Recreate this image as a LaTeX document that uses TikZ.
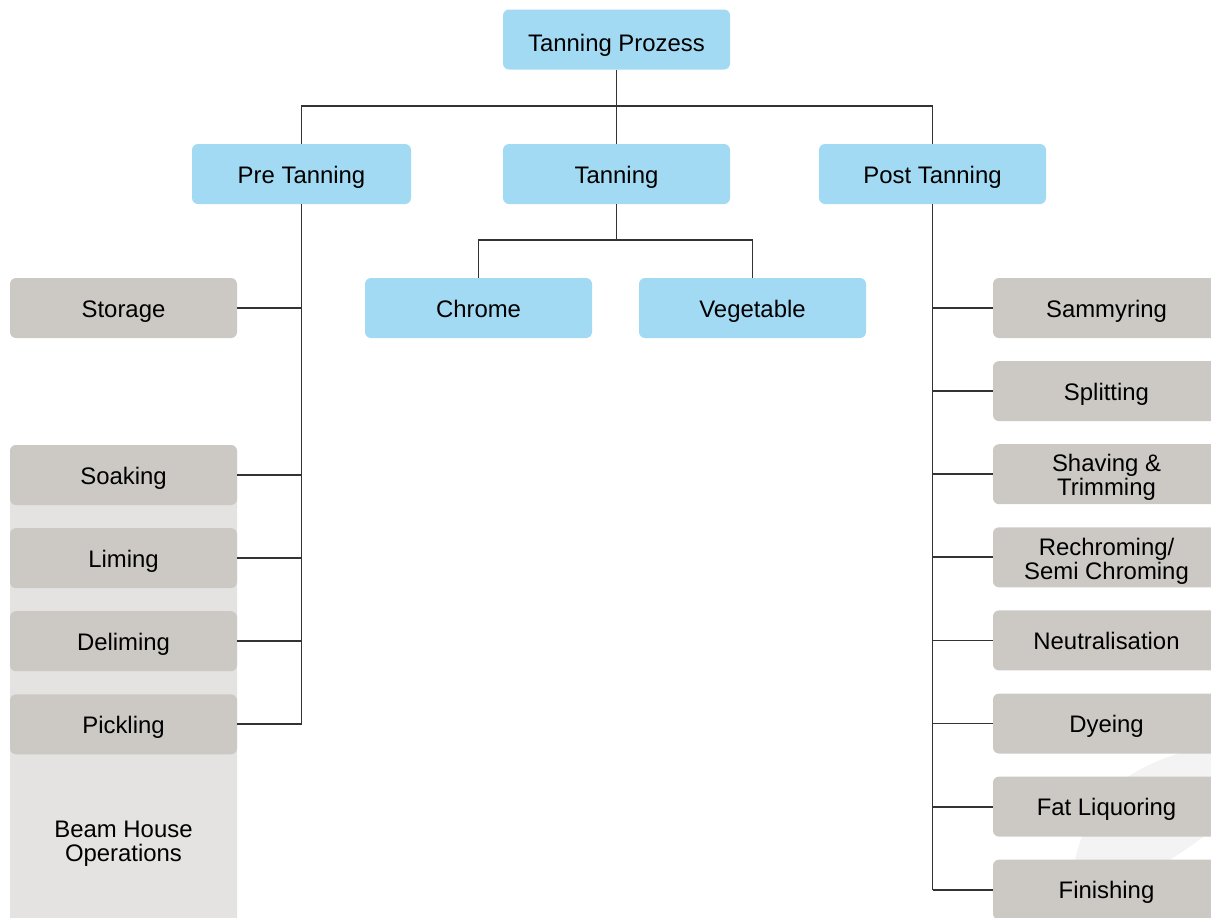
\documentclass[tikz,border=0pt]{standalone}
\usepackage{fontspec}
\setmainfont{Liberation Sans}
\usetikzlibrary{positioning}
\definecolor{boxblue}{HTML}{A3DAF3}
\definecolor{boxgrey}{HTML}{CCC9C5}
\definecolor{panelgrey}{HTML}{E4E3E2}
\definecolor{linegrey}{HTML}{333333}
\definecolor{swoosh}{HTML}{F3F3F3}

\begin{document}
\begin{tikzpicture}[x=0.5pt,y=-0.5pt,node distance=11.15pt,align=center,
	font=\fontsize{11.95pt}{12pt}\selectfont,
	phase/.style={rectangle,rounded corners=3pt,fill=boxblue,minimum width=113.5pt,minimum height=30pt,inner sep=2pt,text height=9pt,text depth=0pt},
	work/.style={rectangle,rounded corners=3pt,fill=boxgrey,minimum width=113.5pt,minimum height=30pt,inner sep=2pt,text height=9pt,text depth=0pt},
	twoline/.style={text height=21.7pt,text depth=0pt},
	link/.style={draw=linegrey,line width=0.9pt}]
		\useasboundingbox (0,0) rectangle (1211,917);
		\clip (0,0) rectangle (1211,917);
		\fill[swoosh] (1072,875) .. controls (1085,800) and (1120,765) .. (1211,745) -- (1211,830) .. controls (1190,850) and (1150,870) .. (1110,900) -- cycle;
		\fill[panelgrey,rounded corners=3pt] (10,445) rectangle (237,940);
		\node[phase,text height=11.5pt] (top) at (616.5,39.5) {Tanning Prozess};
		\node[phase,minimum width=109.5pt] (pre) at (301.5,174) {Pre Tanning};
		\node[phase] (tan) at (616.5,174) {Tanning};
		\node[phase] (post) at (932.5,174) {Post Tanning};
		\node[phase] (chrome) at (478.5,308) {Chrome};
		\node[phase] (veg) at (752.5,308) {Vegetable};
		\node[work] (storage) at (123.5,308) {Storage};
		\node[work] (soak) at (123.5,475) {Soaking};
		\node[work] [below=of soak] (lime) {Liming};
		\node[work] [below=of lime] (delime) {Deliming};
		\node[work] [below=of delime] (pickle) {Pickling};
		\node (beam) at (123.5,844) {Beam House\\Operations};
		\node[work] (sammy) at (1106.5,308) {Sammyring};
		\node[work] [below=of sammy] (split) {Splitting};
		\node[work,twoline] [below=of split] (shave) {Shaving \&\\Trimming};
		\node[work,twoline] [below=of shave] (rechrome) {Rechroming/\\Semi Chroming};
		\node[work] [below=of rechrome] (neutral) {Neutralisation};
		\node[work] [below=of neutral] (dye) {Dyeing};
		\node[work] [below=of dye] (fat) {Fat Liquoring};
		\node[work] [below=of fat] (finish) {Finishing};
		\coordinate (topbus) at (616.5,106);
		\coordinate (tanbus) at (616.5,240);
		\path[link]
			(top.south) -- (topbus)
			(pre.north) |- (topbus) -| (post.north)
			(topbus) -- (tan.north)
			(tan.south) -- (tanbus)
			(chrome.north) |- (tanbus) -| (veg.north)
			(pre.south) -- (pre.south |- pickle.east)
			(post.south) -- (post.south |- finish.west);
		\foreach \n in {storage,soak,lime,delime,pickle}
			\path[link] (\n.east) -- (\n.east -| pre.south);
		\foreach \n in {sammy,split,shave,rechrome,neutral,dye,fat,finish}
			\path[link] (\n.west) -- (\n.west -| post.south);
	\end{tikzpicture}
\end{document}
